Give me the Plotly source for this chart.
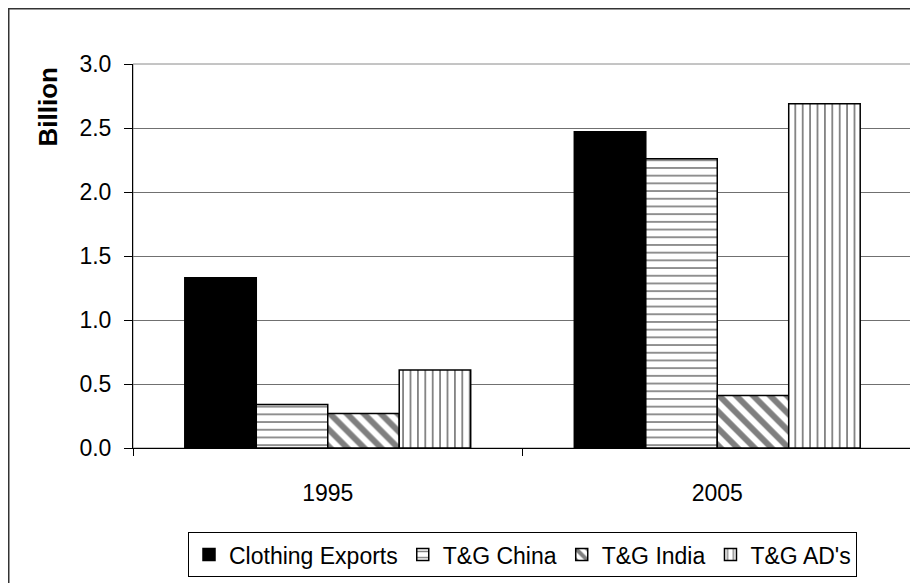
import plotly.graph_objects as go

years = ["1995", "2005"]
series_names = ["Clothing Exports", "T&G China", "T&G India", "T&G AD's"]
clothing_exports = [1.33, 2.47]
tg_china = [0.34, 2.26]
tg_india = [0.27, 0.41]
tg_ads = [0.61, 2.69]
y_ticks = [0.0, 0.5, 1.0, 1.5, 2.0, 2.5, 3.0]

FONT = "Liberation Sans, Arial, sans-serif"

values = [clothing_exports, tg_china, tg_india, tg_ads]
patterns = [
    dict(shape=""),
    dict(shape="-", fgcolor="black", bgcolor="white", size=7.7, solidity=0.22),
    dict(shape="\\", fgcolor="black", bgcolor="white", size=12, solidity=0.5),
    dict(shape="|", fgcolor="black", bgcolor="white", size=7.4, solidity=0.24),
]
colors = ["black", "white", "white", "white"]

fig = go.Figure()
for name, vals, pat, col in zip(series_names, values, patterns, colors):
    fig.add_trace(go.Bar(
        x=years, y=vals, name=name,
        marker=dict(color=col, pattern=pat, line=dict(color="black", width=1.5)),
    ))

# page body adds an 8px offset; plot area targeted at screen x 133-912, y 64-448
W, H = 910, 575
L, R, T, B = 125, 6, 56, 135
pw, ph = W - L - R, H - T - B

fig.update_layout(
    width=W, height=H,
    margin=dict(l=L, r=R, t=T, b=B, autoexpand=False),
    paper_bgcolor="white", plot_bgcolor="white",
    barmode="group", bargap=0.266, bargroupgap=0,
    font=dict(family=FONT, size=23, color="black"),
    showlegend=True,
    legend=dict(orientation="h", x=0.5, xanchor="center", y=-0.219, yanchor="top",
                bordercolor="black", borderwidth=1, font=dict(size=23),
                itemwidth=30, tracegroupgap=0),
    xaxis=dict(type="category", showline=True, linecolor="black", linewidth=1,
               ticks="outside", tickson="boundaries", ticklen=7, tickcolor="black",
               showgrid=False, ticklabelstandoff=24, automargin=False),
    yaxis=dict(range=[0, 3.0], tickvals=y_ticks, tickformat=".1f",
               showline=True, linecolor="black", linewidth=1,
               ticks="outside", ticklen=8, tickcolor="black",
               showgrid=True, gridcolor="#707070", gridwidth=1,
               zeroline=False, ticklabelstandoff=8, automargin=False),
    shapes=[
        dict(type="rect", xref="paper", yref="paper", x0=0, x1=1, y0=0, y1=1,
             line=dict(color="#8a8a8a", width=1), layer="below"),
        dict(type="rect", xref="paper", yref="paper",
             x0=(0.75 - L) / pw, x1=1.05, y0=-0.5, y1=1 + (T - 0.75) / ph,
             line=dict(color="#333333", width=1.5), fillcolor="rgba(0,0,0,0)"),
    ],
    annotations=[
        dict(text="<b>Billion</b>", xref="paper", yref="paper", x=-0.109, y=0.887,
             textangle=-90, showarrow=False, font=dict(size=26, family=FONT),
             xanchor="center", yanchor="middle"),
    ],
)

fig.write_html("out.html")
